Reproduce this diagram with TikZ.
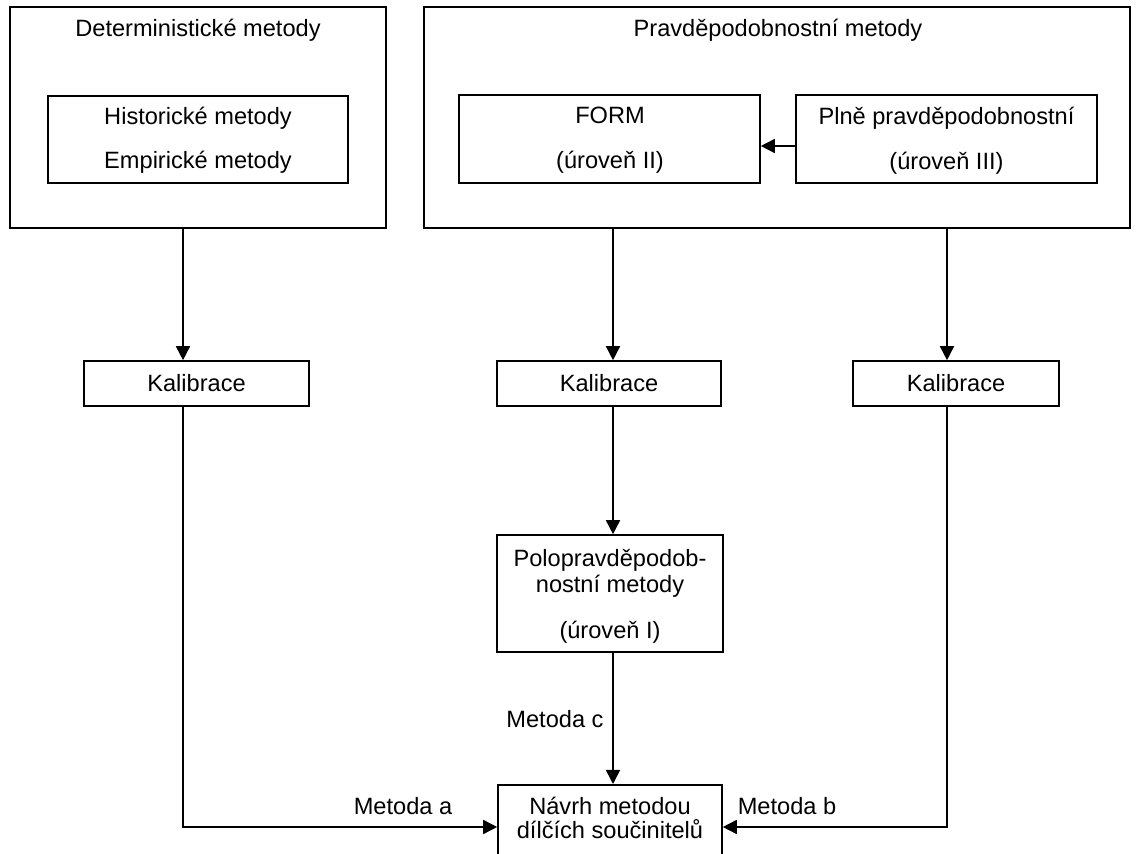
\documentclass[tikz,border=0pt]{standalone}
\usepackage{fontspec}
\setmainfont{Liberation Sans}
\usetikzlibrary{arrows.meta}

\begin{document}
\begin{tikzpicture}[x=0.5pt,y=-0.5pt,
    box/.style={draw,line width=0.8pt,inner sep=0pt},
    txt/.style={font=\fontsize{11.8}{13}\selectfont,align=center,inner sep=0pt},
    arr/.style={line width=0.8pt,-{Triangle[width=7pt,length=7pt]}}]
        \useasboundingbox (0,0) rectangle (1136,854);
        \clip (0,0) rectangle (1136,854);

        % columns and rows of the connectors
        \coordinate (c1) at (183,0);
        \coordinate (c2) at (613,0);
        \coordinate (c3) at (947,0);
        \coordinate (r1) at (0,146);
        \coordinate (r2) at (0,827);

        % upper boxes
        \node[box,minimum width=188pt,minimum height=110.5pt] (det) at (198,117.5){};
        \node[txt] (dett) at (198,30) {Deterministické metody};
        \node[box,minimum width=150pt,minimum height=43.5pt] (hist) at (198,139.5){};
        \node[txt] (histt) at (198,140) {Historické metody\\[9pt]Empirické metody};

        \node[box,minimum width=353pt,minimum height=110.5pt] (prob) at (777,117.5){};
        \node[txt] (probt) at (778,30) {Pravděpodobnostní metody};
        \node[box,minimum width=150.5pt,minimum height=44pt] (form) at (609.5,139){};
        \node[txt] (formt) at (610,140.5) {FORM\\[9.5pt](úroveň II)};
        \node[box,minimum width=150.5pt,minimum height=44pt] (plne) at (946.5,139){};
        \node[txt] (plnet) at (946.5,140.5) {Plně pravděpodobnostní\\[9.5pt](úroveň III)};

        % calibration
        \node[box,txt,minimum width=112.5pt,minimum height=22.5pt] (kal1) at (196.5,383.5) {Kalibrace};
        \node[box,txt,minimum width=112pt,minimum height=22.5pt] (kal2) at (609,383.5) {Kalibrace};
        \node[box,txt,minimum width=103pt,minimum height=22.5pt] (kal3) at (956,383.5) {Kalibrace};

        % lower boxes
        \node[box,minimum width=113pt,minimum height=58.5pt] (polo) at (610,593.5){};
        \node[txt] (polot) at (610,596) {Polopravděpodob-\\nostní metody\\[10pt](úroveň I)};
        \node[box,minimum width=112pt,minimum height=50pt,anchor=north] (navrh) at (610,784){};
        \node[txt] (navrht) at (610,818) {Návrh metodou\\[-1pt]dílčích součinitelů};

        % connectors
        \draw[arr] (plne.west |- r1) -- (form.east |- r1);
        \draw[arr] (det.south -| c1) -- (kal1.north -| c1);
        \draw[arr] (prob.south -| c2) -- (kal2.north -| c2);
        \draw[arr] (prob.south -| c3) -- (kal3.north -| c3);
        \draw[arr] (kal2.south -| c2) -- (polo.north -| c2);
        \draw[arr] (polo.south -| c2) -- (navrh.north -| c2);
        \draw[arr] (kal1.south -| c1) |- (navrh.west |- r2);
        \draw[arr] (kal3.south -| c3) |- (navrh.east |- r2);

        \node[txt] (meta) at (403,806) {Metoda a};
        \node[txt] (metb) at (787,806) {Metoda b};
        \node[txt] (metc) at (555,719) {Metoda c};
    \end{tikzpicture}
\end{document}
